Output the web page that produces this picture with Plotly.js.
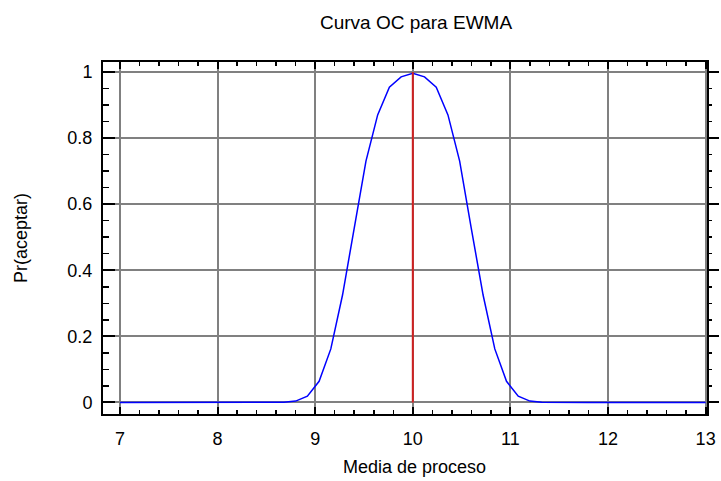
<!DOCTYPE html>
<html>
<head>
<meta charset="utf-8">
<script src="https://cdn.plot.ly/plotly-3.0.1.min.js"></script>
<style>html,body{margin:0;padding:0;background:#fff;}#chart{width:721px;height:481px;}</style>
</head>
<body>
<div id="chart"></div>
<script>
// Process mean (x) values
const processMean = [7, 7.12, 7.24, 7.36, 7.48, 7.6, 7.72, 7.84, 7.96, 8.08, 8.2, 8.32, 8.44, 8.56, 8.68, 8.8, 8.92, 9.04, 9.16, 9.28, 9.4, 9.52, 9.64, 9.76, 9.88, 10, 10.12, 10.24, 10.36, 10.48, 10.6, 10.72, 10.84, 10.96, 11.08, 11.2, 11.32, 11.44, 11.56, 11.68, 11.8, 11.92, 12.04, 12.16, 12.28, 12.4, 12.52, 12.64, 12.76, 12.88, 13];
// Probability of acceptance
const prAccept = [0, 0, 0, 0, 0, 0, 0, 0, 0, 0, 0, 0, 0, 0, 0.0006, 0.004, 0.019, 0.064, 0.162, 0.325, 0.525, 0.730, 0.870, 0.954, 0.985, 0.996, 0.985, 0.954, 0.870, 0.730, 0.525, 0.325, 0.162, 0.064, 0.019, 0.004, 0.0006, 0, 0, 0, 0, 0, 0, 0, 0, 0, 0, 0, 0, 0, 0];
// Target (center) line
const centerX = [10, 10];
const centerY = [0, 1];
const xTicks = [7, 8, 9, 10, 11, 12, 13];
const yTicks = [0, 0.2, 0.4, 0.6, 0.8, 1];
const yTickText = ['0', '0.2', '0.4', '0.6', '0.8', '1'];
const titleText = 'Curva OC para EWMA';
const xTitleText = 'Media de proceso';
const yTitleText = 'Pr(aceptar)';

const FONT = 'Liberation Sans, Arial, sans-serif';

const traces = [
  {x: processMean, y: prAccept, type: 'scatter', mode: 'lines',
   line: {color: '#0000ff', width: 1.5}, hoverinfo: 'skip', showlegend: false},
  {x: centerX, y: centerY, type: 'scatter', mode: 'lines',
   line: {color: '#d02020', width: 2}, hoverinfo: 'skip', showlegend: false},
  {x: [null], y: [null], yaxis: 'y2', type: 'scatter', mode: 'lines',
   hoverinfo: 'skip', showlegend: false}
];

const yRange = [-0.035, 1.03];

const layout = {
  width: 721, height: 481,
  margin: {l: 103, r: 14, t: 62, b: 67, pad: 0},
  paper_bgcolor: '#ffffff', plot_bgcolor: '#ffffff',
  font: {family: FONT, size: 18, color: '#000'},
  showlegend: false,
  title: {text: titleText, font: {family: FONT, size: 19, color: '#000'},
          xref: 'container', x: 416/721, xanchor: 'center',
          yref: 'container', y: 1 - 22/481, yanchor: 'middle'},
  xaxis: {
    range: [6.826, 13.014], tickvals: xTicks, ticktext: xTicks.map(String),
    showgrid: true, gridcolor: '#808080', gridwidth: 2, zeroline: false,
    showline: true, linecolor: '#000', linewidth: 2, mirror: 'ticks',
    ticks: 'inside', ticklen: 7, tickwidth: 2, tickcolor: '#000',
    minor: {dtick: 0.2, tick0: 7, ticks: 'inside', ticklen: 4, tickwidth: 1.5, tickcolor: '#000', showgrid: false},
    ticklabelstandoff: 7,
    tickfont: {family: FONT, size: 18, color: '#000'}
  },
  yaxis: {
    range: yRange, tickvals: yTicks, ticktext: yTickText,
    showgrid: true, gridcolor: '#808080', gridwidth: 2, zeroline: false,
    showline: true, linecolor: '#000', linewidth: 2,
    ticks: 'inside', ticklen: 12, tickwidth: 2, tickcolor: '#000',
    minor: {dtick: 0.05, tick0: 0, ticks: 'inside', ticklen: 6, tickwidth: 1.5, tickcolor: '#000', showgrid: false},
    ticklabelstandoff: 5,
    tickfont: {family: FONT, size: 18, color: '#000'},
    title: {text: yTitleText, font: {family: FONT, size: 18, color: '#000'}, standoff: 35}
  },
  yaxis2: {
    overlaying: 'y', side: 'right', range: yRange, tickvals: yTicks,
    showticklabels: false, showgrid: false, zeroline: false,
    showline: true, linecolor: '#000', linewidth: 2,
    ticks: 'outside', ticklen: 10, tickwidth: 2, tickcolor: '#000',
    minor: {dtick: 0.05, tick0: 0, ticks: 'outside', ticklen: 3, tickwidth: 1.5, tickcolor: '#000', showgrid: false}
  },
  annotations: [
    {text: xTitleText, xref: 'paper', yref: 'paper',
     x: (414 - 103) / (721 - 103 - 14), xanchor: 'center',
     y: -(467 - 414) / (481 - 62 - 67), yanchor: 'middle',
     showarrow: false, font: {family: FONT, size: 18, color: '#000'}}
  ]
};

Plotly.newPlot('chart', traces, layout, {staticPlot: true, displayModeBar: false});
</script>
</body>
</html>
